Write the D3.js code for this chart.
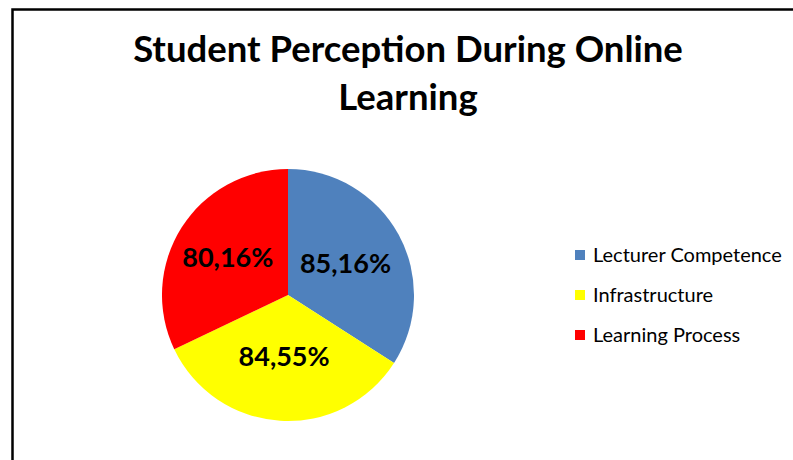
<!DOCTYPE html>
<html><head><meta charset="utf-8">
<script src="https://cdn.jsdelivr.net/npm/d3@7"></script>
<style>body{margin:0;background:#fff}svg{display:block}</style>
</head><body>
<svg id="c" width="793" height="460"></svg>
<script>
const categories = ["Lecturer Competence", "Infrastructure", "Learning Process"];
const values = [85.16, 84.55, 80.16];
const labels = ["85,16%", "84,55%", "80,16%"];
const colors = ["#4F81BD", "#FFFF00", "#FF0000"];
const titleLines = ["Student Perception During Online", "Learning"];

const svg = d3.select("#c");
const font = "Lato, 'Open Sans', sans-serif";

svg.append("rect").attr("x",0).attr("y",0).attr("width",793).attr("height",460).attr("fill","#fff");
// frame
svg.append("rect").attr("x",12.5).attr("y",9.5).attr("width",800).attr("height",470)
  .attr("fill","none").attr("stroke","#000").attr("stroke-width",2.5);

// title
svg.append("g").selectAll("text").data(titleLines).join("text")
  .attr("x",408).attr("y",(d,i)=>62+i*48)
  .attr("text-anchor","middle").attr("font-family",font).attr("font-weight","bold")
  .attr("font-size",36.5).attr("fill","#000").text(d=>d);

const cx = 288, cy = 295, r = 126;
const pie = d3.pie().sort(null).value(d=>d);
const arcs = pie(values);
const arc = d3.arc().innerRadius(0).outerRadius(r);
const g = svg.append("g").attr("transform",`translate(${cx},${cy})`);
g.selectAll("path").data(arcs).join("path").attr("d",arc).attr("fill",(d,i)=>colors[i]);
const labelR = [0.52, 0.49, 0.565];
g.selectAll("text").data(arcs).join("text")
  .attr("transform",(d,i)=>{const rr=r*labelR[i];const c=d3.arc().innerRadius(rr).outerRadius(rr).centroid(d);return `translate(${c[0]},${c[1]})`;})
  .attr("text-anchor","middle").attr("dy","0.36em")
  .attr("font-family",font).attr("font-weight","bold").attr("font-size",27)
  .attr("fill","#000").text((d,i)=>labels[i]);

// legend
const leg = svg.append("g").attr("transform","translate(575,250)");
const rows = leg.selectAll("g").data(categories).join("g").attr("transform",(d,i)=>`translate(0,${i*40})`);
rows.append("rect").attr("width",10).attr("height",10).attr("fill",(d,i)=>colors[i]);
rows.append("text").attr("x",18).attr("y",5).attr("dy","0.35em")
  .attr("font-family",font).attr("font-size",20).attr("fill","#000").text(d=>d);
</script>
</body></html>
